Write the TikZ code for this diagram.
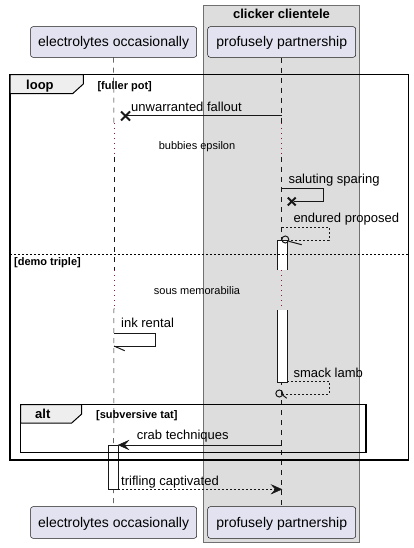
\documentclass[tikz,border=0pt]{standalone}
\usepackage{fontspec}
\setmainfont{Liberation Sans}
\definecolor{partfill}{HTML}{E2E2F0}
\definecolor{partline}{HTML}{181818}
\definecolor{boxfill}{HTML}{DDDDDD}
\definecolor{boxline}{HTML}{707070}
\definecolor{tabfill}{HTML}{EEEEEE}
\definecolor{delayc}{HTML}{8B1A3A}
\tikzset{
  part/.style={draw=partline, fill=partfill, line width=0.5pt, rounded corners=2.5pt, inner sep=0pt, text height=11pt, text depth=1pt, font=\fontsize{14}{16}\selectfont, text=black},
  msg/.style={font=\fontsize{13}{15}\selectfont, anchor=base west, inner sep=0pt},
  dly/.style={font=\fontsize{11}{13}\selectfont, anchor=base, inner sep=0pt},
  guard/.style={font=\bfseries\fontsize{11}{13}\selectfont, anchor=base west, inner sep=0pt},
  flab/.style={font=\bfseries\fontsize{13}{15}\selectfont, anchor=base west, inner sep=0pt},
  life/.style={draw=partline, line width=0.5pt, dash pattern=on 5pt off 5pt},
  delayline/.style={draw=delayc, line width=1pt, dash pattern=on 1pt off 4pt},
  msgline/.style={draw=partline, line width=1pt},
  retline/.style={draw=partline, line width=1pt, dash pattern=on 2pt off 2pt},
  framebox/.style={draw=black, line width=1.5pt},
  tabbox/.style={draw=black, fill=tabfill, line width=1pt},
  actbox/.style={draw=partline, fill=white, line width=1pt},
  actside/.style={draw=partline, line width=1pt},
  killx/.style={draw=partline, line width=2pt},
  headfill/.style={fill=partline, draw=partline, line width=0.5pt},
}
\begin{document}
\begin{tikzpicture}[x=1pt,y=-1pt]
\useasboundingbox (0,0) rectangle (414,548);
% group box
\path[fill=boxfill, draw=boxline, line width=1pt] (203.7,6) rectangle (359.3,542.7);
\node[flab, anchor=base] (boxtitle) at (281.5,19) {clicker clientele};
% participants
\node[part, minimum width=166.2pt, minimum height=30.6pt] (eTop) at (113.6,42) {electrolytes occasionally};
\node[part, minimum width=148pt, minimum height=30.6pt] (pTop) at (281.7,42) {profusely partnership};
\node[part, minimum width=166.2pt, minimum height=31.6pt] (eBot) at (113.6,522.5) {electrolytes occasionally};
\node[part, minimum width=148pt, minimum height=31.6pt] (pBot) at (281.7,522.5) {profusely partnership};
% lifeline coordinates
\coordinate (eL1) at (114,123); \coordinate (eL2) at (114,157);
\coordinate (eL3) at (114,270); \coordinate (eL4) at (114,308);
\coordinate (pL1) at (281.7,123); \coordinate (pL2) at (281.7,157);
\coordinate (pL3) at (281.7,270); \coordinate (pL4) at (281.7,310);
\draw[life] (eTop.south) -- (eL1);
\draw[delayline] (eL1) -- (eL2);
\draw[life] (eL2) -- (eL3);
\draw[delayline] (eL3) -- (eL4);
\draw[life] (eL4) -- (eBot.north);
\draw[life] (pTop.south) -- (pL1);
\draw[delayline] (pL1) -- (pL2);
\draw[life] (pL2) -- (pL3);
\draw[delayline] (pL3) -- (pL4);
\draw[life] (pL4) -- (pBot.north);
% activations
\fill[white] (277,240) rectangle (287,269.5);
\draw[actside] (277,269.5) -- (277,240) -- (287,240) -- (287,269.5);
\fill[white] (277,310) rectangle (287,382);
\draw[actside] (277,310) -- (277,382) -- (287,382) -- (287,310);
\draw[actbox] (108.7,445) rectangle (118.3,489.3);
% loop frame
\draw[framebox] (10,74.7) rectangle (408.7,460);
\draw[tabbox] (10,74.7) -- (83.3,74.7) -- (83.3,84) -- (72.7,93.6) -- (10,93.6) -- cycle;
\node[flab] (looplab) at (26,90) {loop};
\node[guard] (loopguard) at (97.3,89.5) {[fuller pot]};
\draw[draw=black, line width=1pt, dash pattern=on 2pt off 2pt] (10,254.3) -- (408.7,254.3);
\node[guard] (elseguard) at (14,265.5) {[demo triple]};
% alt frame
\draw[framebox] (20.7,404.7) rectangle (366,452.7);
\draw[tabbox] (20.7,404.7) -- (81.7,404.7) -- (81.7,414) -- (71.7,423) -- (20.7,423) -- cycle;
\node[flab] (altlab) at (35,418.5) {alt};
\node[guard] (altguard) at (96,418.5) {[subversive tat]};
% message 1
\coordinate (m1s) at (281.7,116); \coordinate (m1e) at (127,116);
\draw[msgline] (m1s) -- (m1e);
\node[msg] (m1t) at (131,112) {unwarranted fallout};
\draw[killx] (121,111.5) -- (130,120.5) (121,120.5) -- (130,111.5);
% delay 1
\node[dly] (d1) at (197,149.5) {bubbies epsilon};
% message 2 self
\coordinate (m2s) at (281.7,188.7); \coordinate (m2e) at (294,201.5);
\draw[msgline] (m2s) -- (323.3,188.7) -- (323.3,201.5) -- (m2e);
\node[msg] (m2t) at (288.3,183.5) {saluting sparing};
\draw[killx] (287.8,197.6) -- (295.6,205.4) (287.8,205.4) -- (295.6,197.6);
% message 3 self dashed with circle
\coordinate (m3s) at (282,227); \coordinate (m3e) at (289,240);
\draw[retline] (m3s) -- (329,227) -- (329,240) -- (m3e);
\draw[partline, line width=1pt] (285.3,239.5) circle (3.5pt);
\draw[partline, line width=1pt] (288.8,241.3) -- (301.7,244.7);
\node[msg] (m3t) at (293.3,222) {endured proposed};
% delay 2
\node[dly] (d2) at (197,294) {sous memorabilia};
% message 4 self solid
\coordinate (m4s) at (114,333); \coordinate (m4e) at (114,346);
\draw[msgline] (m4s) -- (155.3,333) -- (155.3,346) -- (m4e);
\draw[msgline] (m4e) -- (124.7,350.7);
\node[msg] (m4t) at (121,327.5) {ink rental};
% message 5 self dashed
\coordinate (m5s) at (287,381); \coordinate (m5e) at (283,394);
\draw[retline] (m5s) -- (329,381) -- (329,394) -- (m5e);
\draw[partline, line width=1pt] (279.3,393.5) circle (3.5pt);
\draw[partline, line width=1pt] (282.6,395) -- (286.7,398.3);
\node[msg] (m5t) at (293.3,377) {smack lamb};
% message 6
\coordinate (m6s) at (281.7,445); \coordinate (m6e) at (120,445);
\draw[msgline] (m6s) -- (m6e);
\fill[headfill] (118.3,445) -- (128.5,440.5) -- (124.5,445) -- (128.5,449.5) -- cycle;
\node[msg] (m6t) at (136.7,439.5) {crab techniques};
% message 7
\coordinate (m7s) at (118.3,489.3); \coordinate (m7e) at (279,489.3);
\draw[retline] (m7s) -- (m7e);
\fill[headfill] (281.7,489.3) -- (271.5,484.8) -- (275.5,489.3) -- (271.5,493.8) -- cycle;
\node[msg] (m7t) at (121,485) {trifling captivated};
\end{tikzpicture}
\end{document}
